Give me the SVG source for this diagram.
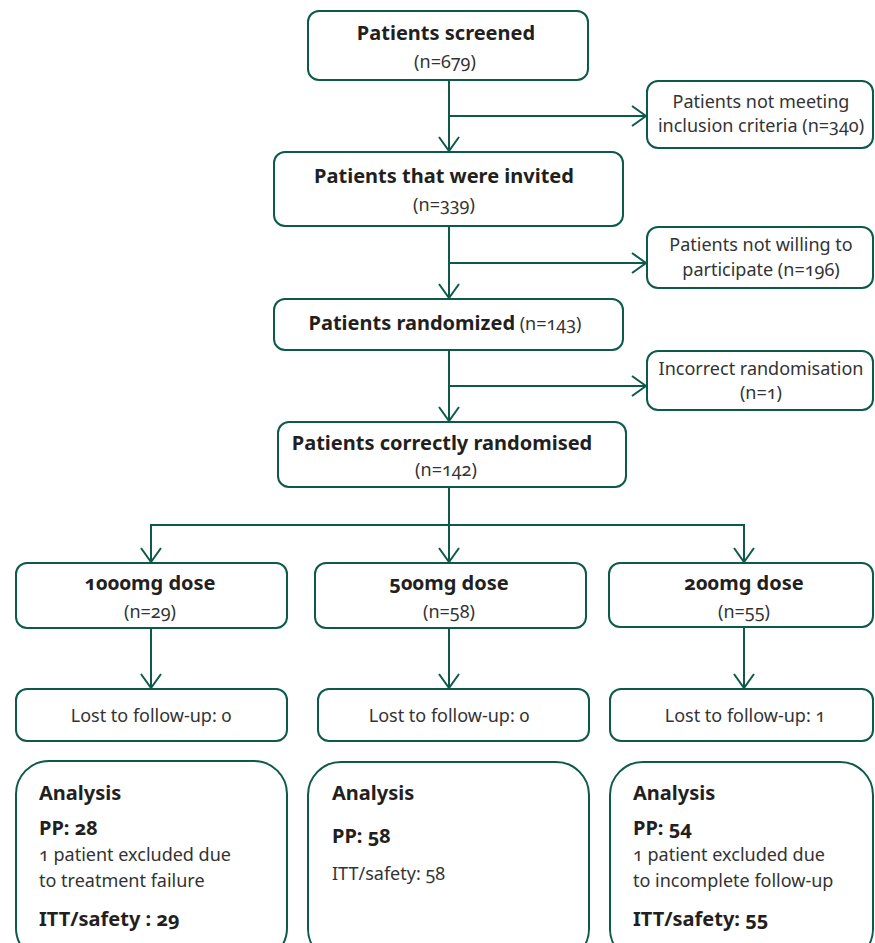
<svg xmlns="http://www.w3.org/2000/svg" width="875" height="943" viewBox="0 0 875 943">
<style>
  .box { fill: #ffffff; stroke: #0d5a4a; stroke-width: 2; }
  .ln { fill: none; stroke: #0d5a4a; stroke-width: 2; }
  text { font-family: "Noto Sans", "DejaVu Sans", sans-serif; font-variant-numeric: oldstyle-nums; font-feature-settings: "onum" 1; }
  .b { font-size: 20px; font-weight: bold; fill: #231f20; }
  .r { font-size: 18px; fill: #333333; }
  .c { text-anchor: middle; }
</style>
<defs>
  <marker id="arr" viewBox="0 0 16 22" refX="15" refY="11" markerWidth="16" markerHeight="22" markerUnits="userSpaceOnUse" orient="auto">
    <path d="M1,1 L15,11 L1,21" fill="none" stroke="#0d5a4a" stroke-width="2"/>
  </marker>
</defs>

<g id="connectors">
  <path class="ln" d="M449,80 V151" marker-end="url(#arr)"/>
  <path class="ln" d="M449,116 H646" marker-end="url(#arr)"/>
  <path class="ln" d="M449,226 V298" marker-end="url(#arr)"/>
  <path class="ln" d="M449,263 H646" marker-end="url(#arr)"/>
  <path class="ln" d="M449,350 V421" marker-end="url(#arr)"/>
  <path class="ln" d="M449,386 H646" marker-end="url(#arr)"/>
  <path class="ln" d="M449,487 V525"/>
  <path class="ln" d="M151,525 H744"/>
  <path class="ln" d="M151,524 V562" marker-end="url(#arr)"/>
  <path class="ln" d="M449,525 V562" marker-end="url(#arr)"/>
  <path class="ln" d="M744,524 V562" marker-end="url(#arr)"/>
  <path class="ln" d="M151,628 V688" marker-end="url(#arr)"/>
  <path class="ln" d="M449,628 V688" marker-end="url(#arr)"/>
  <path class="ln" d="M744,627 V688" marker-end="url(#arr)"/>
</g>

<g id="screened">
  <rect class="box" x="308" y="11" width="280" height="69" rx="11"/>
  <text class="b c" x="446" y="40">Patients screened</text>
  <text class="r c" x="445" y="68">(n=679)</text>
</g>
<g id="not-meeting">
  <rect class="box" x="647" y="81" width="226" height="67" rx="11"/>
  <text class="r c" x="761" y="108">Patients not meeting</text>
  <text class="r c" x="761" y="132">inclusion criteria (n=340)</text>
</g>
<g id="invited">
  <rect class="box" x="274" y="152" width="349" height="74" rx="11"/>
  <text class="b c" x="444" y="183">Patients that were invited</text>
  <text class="r c" x="444" y="211">(n=339)</text>
</g>
<g id="not-willing">
  <rect class="box" x="647" y="227" width="226" height="61" rx="11"/>
  <text class="r c" x="761" y="251">Patients not willing to</text>
  <text class="r c" x="761" y="276">participate (n=196)</text>
</g>
<g id="randomized">
  <rect class="box" x="274" y="299" width="349" height="51" rx="11"/>
  <text class="c" x="445" y="330"><tspan class="b">Patients randomized</tspan><tspan class="r"> (n=143)</tspan></text>
</g>
<g id="incorrect">
  <rect class="box" x="647" y="351" width="226" height="59" rx="11"/>
  <text class="r c" x="761" y="375">Incorrect randomisation</text>
  <text class="r c" x="761" y="399">(n=1)</text>
</g>
<g id="correctly">
  <rect class="box" x="278" y="422" width="348" height="65" rx="11"/>
  <text class="b c" x="442" y="450">Patients correctly randomised</text>
  <text class="r c" x="446" y="476">(n=142)</text>
</g>

<g id="dose1000">
  <rect class="box" x="16" y="563" width="271" height="65" rx="11"/>
  <text class="b c" x="150" y="590">1000mg dose</text>
  <text class="r c" x="150" y="618">(n=29)</text>
</g>
<g id="dose500">
  <rect class="box" x="315" y="563" width="271" height="65" rx="11"/>
  <text class="b c" x="449" y="590">500mg dose</text>
  <text class="r c" x="449" y="618">(n=58)</text>
</g>
<g id="dose200">
  <rect class="box" x="609" y="563" width="264" height="64" rx="11"/>
  <text class="b c" x="744" y="590">200mg dose</text>
  <text class="r c" x="744" y="618">(n=55)</text>
</g>

<g id="lost1000">
  <rect class="box" x="16" y="689" width="271" height="52" rx="11"/>
  <text class="r c" x="151" y="722">Lost to follow-up: 0</text>
</g>
<g id="lost500">
  <rect class="box" x="318" y="689" width="271" height="52" rx="11"/>
  <text class="r c" x="449" y="722">Lost to follow-up: 0</text>
</g>
<g id="lost200">
  <rect class="box" x="610" y="689" width="263" height="52" rx="11"/>
  <text class="r c" x="745" y="722">Lost to follow-up: 1</text>
</g>

<g id="analysis1000">
  <rect class="box" x="16" y="761" width="271" height="200" rx="33"/>
  <text class="b" x="39" y="800">Analysis</text>
  <text class="b" x="39" y="835">PP: 28</text>
  <text class="r" x="39" y="861">1 patient excluded due</text>
  <text class="r" x="39" y="887">to treatment failure</text>
  <text class="b" x="39" y="926">ITT/safety : 29</text>
</g>
<g id="analysis500">
  <rect class="box" x="308" y="762" width="281" height="200" rx="33"/>
  <text class="b" x="332" y="800">Analysis</text>
  <text class="b" x="332" y="843">PP: 58</text>
  <text class="r" x="332" y="880">ITT/safety: 58</text>
</g>
<g id="analysis200">
  <rect class="box" x="610" y="762" width="263" height="200" rx="33"/>
  <text class="b" x="633" y="800">Analysis</text>
  <text class="b" x="633" y="835">PP: 54</text>
  <text class="r" x="633" y="861">1 patient excluded due</text>
  <text class="r" x="633" y="887">to incomplete follow-up</text>
  <text class="b" x="633" y="926">ITT/safety: 55</text>
</g>
</svg>
